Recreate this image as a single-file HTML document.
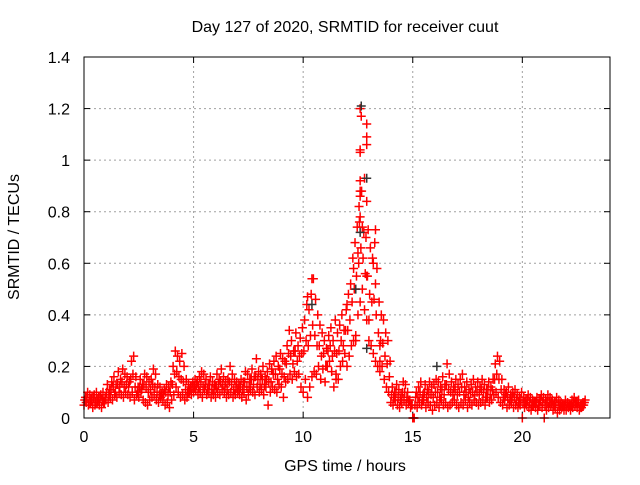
<!DOCTYPE html>
<html><head><meta charset="utf-8"><style>
body{margin:0;background:#fff;}
svg text{font-family:"Liberation Sans",sans-serif;font-size:16px;fill:#000;}
</style></head><body>
<svg id="c" width="640" height="480" xmlns="http://www.w3.org/2000/svg">
<rect width="640" height="480" fill="#fff"/>
<text x="345" y="32" text-anchor="middle">Day 127 of 2020, SRMTID for receiver cuut</text>
<text x="345" y="471" text-anchor="middle">GPS time / hours</text>
<text transform="translate(19,237) rotate(-90)" text-anchor="middle">SRMTID / TECUs</text>
<g id="grid"></g>
<g id="axes"></g>
<g id="pts"></g>
<rect x="84" y="57" width="526" height="361" fill="none" stroke="#000" stroke-width="1"/>
</svg>
<script>
const xTicks=[0,5,10,15,20];
const yTicks=[0,0.2,0.4,0.6,0.8,1,1.2,1.4];
const yTickLabels=["0","0.2","0.4","0.6","0.8","1","1.2","1.4"];
const step=0.1;
const lowValues=[0.05,0.06,0.05,0.06,0.04,0.05,0.06,0.05,0.04,0.06,
0.07,0.06,0.08,0.07,0.09,0.08,0.10,0.09,0.08,0.10,
0.09,0.08,0.10,0.07,0.09,0.08,0.10,0.07,0.06,0.05,
0.07,0.08,0.09,0.07,0.06,0.08,0.07,0.05,0.06,0.04,
0.07,0.09,0.12,0.10,0.08,0.09,0.07,0.08,0.10,0.09,
0.10,0.11,0.09,0.10,0.08,0.11,0.09,0.10,0.08,0.09,
0.08,0.10,0.09,0.11,0.10,0.08,0.09,0.10,0.08,0.09,
0.10,0.09,0.08,0.10,0.07,0.09,0.11,0.10,0.09,0.12,
0.10,0.11,0.09,0.12,0.05,0.10,0.12,0.11,0.10,0.13,
0.12,0.08,0.14,0.15,0.17,0.15,0.18,0.16,0.17,0.12,
0.10,0.15,0.08,0.12,0.16,0.18,0.17,0.20,0.15,0.19,
0.14,0.20,0.22,0.18,0.12,0.17,0.15,0.20,0.22,0.25,
0.20,0.24,0.28,0.30,0.32,0.40,0.45,0.50,0.42,0.38,
0.30,0.28,0.25,0.22,0.20,0.18,0.20,0.15,0.12,0.10,
0.06,0.05,0.07,0.05,0.04,0.06,0.07,0.05,0.06,0.04,
0.00,0.05,0.04,0.06,0.05,0.07,0.04,0.06,0.05,0.03,
0.05,0.06,0.04,0.07,0.05,0.06,0.04,0.05,0.06,0.07,
0.05,0.04,0.06,0.05,0.07,0.04,0.06,0.05,0.07,0.06,
0.05,0.06,0.07,0.05,0.08,0.06,0.07,0.09,0.10,0.08,
0.06,0.05,0.07,0.04,0.05,0.06,0.04,0.05,0.04,0.05,
0.00,0.04,0.05,0.04,0.03,0.05,0.04,0.03,0.05,0.04,
0.00,0.03,0.04,0.05,0.03,0.04,0.02,0.03,0.04,0.03,
0.03,0.04,0.03,0.04,0.05,0.04,0.03,0.04,0.05];
const midValues=[0.07,0.08,0.06,0.07,0.08,0.06,0.07,0.08,0.07,0.06,
0.10,0.09,0.11,0.12,0.10,0.13,0.12,0.14,0.12,0.13,
0.12,0.15,0.17,0.12,0.10,0.12,0.11,0.13,0.12,0.10,
0.11,0.13,0.12,0.10,0.09,0.09,0.09,0.10,0.09,0.10,
0.13,0.17,0.18,0.16,0.15,0.14,0.11,0.10,0.11,0.12,
0.12,0.13,0.12,0.14,0.12,0.13,0.11,0.13,0.11,0.11,
0.12,0.13,0.14,0.13,0.12,0.11,0.14,0.13,0.11,0.12,
0.11,0.12,0.11,0.14,0.12,0.12,0.15,0.13,0.16,0.15,
0.13,0.15,0.13,0.15,0.14,0.14,0.17,0.17,0.15,0.19,
0.17,0.16,0.21,0.25,0.24,0.21,0.26,0.22,0.24,0.25,
0.26,0.30,0.28,0.32,0.36,0.32,0.28,0.28,0.24,0.25,
0.20,0.26,0.28,0.24,0.26,0.25,0.26,0.30,0.28,0.34,
0.34,0.38,0.45,0.50,0.55,0.60,0.66,0.62,0.56,0.55,
0.48,0.45,0.46,0.40,0.33,0.30,0.29,0.24,0.21,0.16,
0.09,0.08,0.10,0.08,0.07,0.10,0.10,0.08,0.07,0.05,
0.00,0.08,0.08,0.10,0.07,0.10,0.08,0.10,0.09,0.08,
0.10,0.10,0.08,0.11,0.09,0.13,0.11,0.10,0.09,0.11,
0.09,0.10,0.12,0.09,0.10,0.08,0.10,0.10,0.09,0.10,
0.09,0.11,0.10,0.08,0.11,0.09,0.11,0.15,0.17,0.15,
0.11,0.08,0.09,0.08,0.07,0.08,0.08,0.07,0.06,0.07,
0.06,0.06,0.07,0.06,0.05,0.06,0.06,0.05,0.07,0.06,
0.05,0.06,0.06,0.06,0.05,0.06,0.05,0.05,0.05,0.05,
0.05,0.05,0.05,0.06,0.06,0.06,0.04,0.05,0.06];
const highValues=[0.08,0.10,0.09,0.08,0.09,0.10,0.08,0.09,0.10,0.08,
0.13,0.11,0.14,0.16,0.13,0.18,0.15,0.19,0.17,0.16,
0.14,0.22,0.24,0.16,0.12,0.15,0.13,0.17,0.16,0.14,
0.15,0.19,0.17,0.13,0.12,0.10,0.11,0.13,0.12,0.14,
0.20,0.26,0.24,0.22,0.25,0.20,0.15,0.13,0.12,0.14,
0.15,0.14,0.16,0.18,0.17,0.15,0.13,0.16,0.14,0.13,
0.17,0.15,0.19,0.16,0.14,0.15,0.20,0.17,0.15,0.14,
0.13,0.15,0.14,0.18,0.17,0.15,0.19,0.16,0.23,0.18,
0.17,0.20,0.16,0.18,0.21,0.19,0.22,0.24,0.20,0.25,
0.23,0.22,0.28,0.34,0.30,0.26,0.33,0.28,0.31,0.35,
0.38,0.44,0.42,0.48,0.54,0.46,0.40,0.36,0.33,0.30,
0.27,0.32,0.35,0.30,0.38,0.33,0.36,0.40,0.34,0.42,
0.48,0.52,0.62,0.68,0.74,0.76,0.88,0.72,0.70,0.73,
0.66,0.62,0.68,0.58,0.45,0.40,0.38,0.33,0.30,0.22,
0.12,0.10,0.13,0.11,0.09,0.14,0.13,0.10,0.07,0.05,
0.00,0.10,0.12,0.14,0.09,0.13,0.11,0.14,0.12,0.13,
0.15,0.14,0.12,0.16,0.13,0.21,0.17,0.14,0.12,0.15,
0.13,0.15,0.17,0.12,0.14,0.11,0.13,0.15,0.12,0.14,
0.12,0.15,0.13,0.11,0.14,0.12,0.15,0.21,0.24,0.22,
0.15,0.11,0.10,0.12,0.09,0.10,0.11,0.09,0.08,0.10,
0.08,0.07,0.09,0.08,0.07,0.06,0.08,0.07,0.09,0.08,
0.07,0.09,0.08,0.07,0.06,0.08,0.07,0.06,0.05,0.07,
0.06,0.05,0.07,0.08,0.06,0.07,0.05,0.06,0.07];
const peakHours=[12.6,12.65,12.9,12.6,12.9,12.9,12.6,12.6,12.8,12.6,12.6,12.9,12.55,12.6,12.7,13.3,12.0,10.4,10.2,12.3,13.2,13.3,12.9,12.5,13.0,12.4,11.5,13.5,13.5];
const peakValues=[1.20,1.17,1.14,1.04,1.09,1.06,1.03,0.92,0.93,0.88,0.86,0.84,0.82,0.78,0.74,0.73,0.44,0.54,0.47,0.58,0.60,0.52,0.55,0.64,0.38,0.30,0.15,0.28,0.22];
const blackHours=[12.65,12.9,12.6,12.4,10.4,16.1,12.9];
const blackValues=[1.21,0.93,0.72,0.50,0.44,0.20,0.27];

const X0=84,X1=610,Y0=418,Y1=57;
const xs=h=>X0+h/24*(X1-X0);
const ys=v=>Y0-v/1.4*(Y0-Y1);
const NS="http://www.w3.org/2000/svg";
function mk(tag,attrs,parent){const e=document.createElementNS(NS,tag);for(const k in attrs)e.setAttribute(k,attrs[k]);parent.appendChild(e);return e;}
const grid=document.getElementById('grid'),axes=document.getElementById('axes'),pts=document.getElementById('pts');
xTicks.forEach(t=>{const x=xs(t);
 if(t>0){const l=mk('line',{x1:x,y1:Y0,x2:x,y2:Y1,stroke:'#a0a0a0','stroke-dasharray':'2,3'},grid);
 
 }
 mk('line',{x1:x,y1:Y0,x2:x,y2:Y0-6,stroke:'#000'},axes);
 mk('line',{x1:x,y1:Y1,x2:x,y2:Y1+6,stroke:'#000'},axes);
 const tx=mk('text',{x:x,y:Y0+24,'text-anchor':'middle'},axes);tx.textContent=t;
 
 });
yTicks.forEach((t,i)=>{const y=ys(t);
 if(t>0&&t<1.4){const l=mk('line',{x1:X0,y1:y,x2:X1,y2:y,stroke:'#a0a0a0','stroke-dasharray':'2,3'},grid);
 
 }
 mk('line',{x1:X0,y1:y,x2:X0+6,y2:y,stroke:'#000'},axes);
 mk('line',{x1:X1,y1:y,x2:X1-6,y2:y,stroke:'#000'},axes);
 const tx=mk('text',{x:70,y:y+6,'text-anchor':'end'},axes);tx.textContent=yTickLabels[i];
 
 });
function plus(h,v,col){const x=xs(h),y=ys(v),r=4.5;
 const p=mk('path',{d:`M${x-r},${y}H${x+r}M${x},${y-r}V${y+r}`,stroke:col,'stroke-width':1.5,fill:'none'},pts);
 
 }
lowValues.forEach((v,i)=>plus(i*step,v,'#ff0000'));
midValues.forEach((v,i)=>plus(i*step+0.033,v,'#ff0000'));
highValues.forEach((v,i)=>plus(i*step+0.066,v,'#ff0000'));
peakValues.forEach((v,i)=>plus(peakHours[i],v,'#ff0000'));
blackValues.forEach((v,i)=>plus(blackHours[i],v,'#333333'));
</script>
</body></html>
